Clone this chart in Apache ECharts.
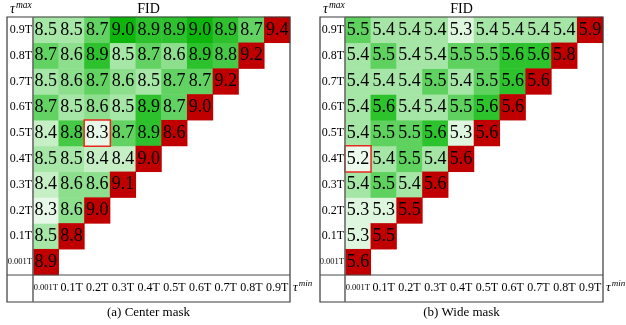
<!DOCTYPE html>
<html>
<head>
<meta charset="utf-8">
<script src="https://cdn.jsdelivr.net/npm/echarts@6/dist/echarts.min.js"></script>
<style>
  html, body { margin: 0; padding: 0; background: #fff; }
  #chart { width: 626px; height: 325px; }
</style>
</head>
<body>
<div id="chart"></div>
<script>
// Timestep thresholds, shared by both axes (tau_min on x, tau_max on y)
const tauLabels = ['0.001T', '0.1T', '0.2T', '0.3T', '0.4T', '0.5T', '0.6T', '0.7T', '0.8T', '0.9T'];

// FID per tau_max row (bottom to top); entry i is tau_min = tauLabels[i],
// the last entry of each row is the diagonal (tau_min = tau_max).
const centerMaskFID = [
  [8.9],
  [8.5, 8.8],
  [8.3, 8.6, 9.0],
  [8.4, 8.6, 8.6, 9.1],
  [8.5, 8.5, 8.4, 8.4, 9.0],
  [8.4, 8.8, 8.3, 8.7, 8.9, 8.6],
  [8.7, 8.5, 8.6, 8.5, 8.9, 8.7, 9.0],
  [8.5, 8.6, 8.7, 8.6, 8.5, 8.7, 8.7, 9.2],
  [8.7, 8.6, 8.9, 8.5, 8.7, 8.6, 8.9, 8.8, 9.2],
  [8.5, 8.5, 8.7, 9.0, 8.9, 8.9, 9.0, 8.9, 8.7, 9.4]
];

const wideMaskFID = [
  [5.6],
  [5.3, 5.5],
  [5.3, 5.3, 5.5],
  [5.4, 5.5, 5.4, 5.6],
  [5.2, 5.4, 5.5, 5.4, 5.6],
  [5.4, 5.5, 5.5, 5.6, 5.3, 5.6],
  [5.4, 5.6, 5.4, 5.4, 5.5, 5.6, 5.6],
  [5.4, 5.4, 5.4, 5.5, 5.4, 5.5, 5.6, 5.6],
  [5.4, 5.5, 5.4, 5.4, 5.5, 5.5, 5.6, 5.6, 5.8],
  [5.5, 5.4, 5.4, 5.4, 5.3, 5.4, 5.4, 5.4, 5.4, 5.9]
];

// Best cell of each panel: [tau_min index, tau_max index]
const centerMaskBest = [2, 5];
const wideMaskBest = [0, 4];

const captions = ['(a) Center mask', '(b) Wide mask'];

// Green ramps (low FID -> pale, high FID -> saturated)
const centerRange = [8.3, 9.0];
const centerColors = ['#e8f8e8', '#c6efc6', '#a6e6a6', '#8ddf8d', '#62d262', '#46ca46', '#2dc22d', '#0db50d'];
const wideRange = [5.2, 5.6];
const wideColors = ['#ecf9ec', '#def5de', '#a5e5a5', '#5fd15f', '#2cc32c'];
const diagColor = '#c00000';

const FONT = '"Liberation Serif", "Times New Roman", serif';

// Panel layout (cells area + outer table frame)
const panels = [
  { gridLeft: 33, outerLeft: 7, width: 257 },
  { gridLeft: 345, outerLeft: 320, width: 258 }
];
const gridTop = 17, gridH = 258, footH = 27;

function splitRows(rows, best) {
  const off = [], diag = [];
  let bestItem = null;
  rows.forEach((row, y) => {
    row.forEach((v, x) => {
      if (x === row.length - 1) { diag.push([x, y, v]); return; }
      if (x === best[0] && y === best[1]) {
        bestItem = { value: [x, y, v], itemStyle: { borderColor: '#e8281e', borderWidth: 1.5 } };
      } else {
        off.push([x, y, v]);
      }
    });
  });
  if (bestItem) off.push(bestItem);
  return { off, diag };
}

const sets = [splitRows(centerMaskFID, centerMaskBest), splitRows(wideMaskFID, wideMaskBest)];

const tickRich = {
  n: { fontFamily: FONT, fontSize: 12, color: '#000' },
  s: { fontFamily: FONT, fontSize: 8.5, color: '#000' }
};
const tickFmt = v => (v === '0.001T' ? '{s|' + v + '}' : '{n|' + v + '}');

const grid = [], xAxis = [], yAxis = [], series = [], visualMap = [], graphic = [];

panels.forEach((p, i) => {
  grid.push({ left: p.gridLeft, top: gridTop, width: p.width, height: gridH, show: false });
  xAxis.push({
    type: 'category', gridIndex: i, data: tauLabels,
    axisLine: { show: false }, axisTick: { show: false }, splitLine: { show: false },
    axisLabel: { margin: 13, verticalAlign: 'middle', formatter: tickFmt, rich: tickRich, interval: 0 }
  });
  yAxis.push({
    type: 'category', gridIndex: i, data: tauLabels,
    axisLine: { show: false }, axisTick: { show: false }, splitLine: { show: false },
    axisLabel: { margin: 1, formatter: tickFmt, rich: tickRich, interval: 0 }
  });

  const label = {
    show: true, fontFamily: FONT, fontSize: 18, color: '#000',
    formatter: q => q.value[2].toFixed(1)
  };
  series.push({
    type: 'heatmap', xAxisIndex: i, yAxisIndex: i, data: sets[i].off,
    label, emphasis: { disabled: true }, itemStyle: { borderWidth: 0 }
  });
  series.push({
    type: 'heatmap', xAxisIndex: i, yAxisIndex: i, data: sets[i].diag,
    label, emphasis: { disabled: true }
  });

  const rng = i === 0 ? centerRange : wideRange;
  visualMap.push({
    show: false, type: 'continuous', seriesIndex: 2 * i,
    min: rng[0], max: rng[1], dimension: 2,
    inRange: { color: i === 0 ? centerColors : wideColors }
  });
  visualMap.push({
    show: false, type: 'continuous', seriesIndex: 2 * i + 1,
    min: 0, max: 20, dimension: 2,
    inRange: { color: [diagColor, diagColor] }
  });

  const right = p.gridLeft + p.width;
  const bottom = gridTop + gridH + footH;
  const cx = (p.outerLeft + right) / 2;

  // table frame
  graphic.push({
    type: 'rect', z: 100,
    shape: { x: p.outerLeft, y: gridTop, width: right - p.outerLeft, height: gridH + footH },
    style: { fill: 'none', stroke: '#3a3a3a', lineWidth: 1.2 }
  });
  graphic.push({
    type: 'line', z: 100,
    shape: { x1: p.gridLeft, y1: gridTop, x2: p.gridLeft, y2: bottom },
    style: { stroke: '#6a6a6a', lineWidth: 1.6 }
  });
  graphic.push({
    type: 'line', z: 100,
    shape: { x1: p.outerLeft, y1: gridTop + gridH, x2: right, y2: gridTop + gridH },
    style: { stroke: '#4a4a4a', lineWidth: 1.2 }
  });

  // headings
  graphic.push({
    type: 'text', z: 100, left: p.outerLeft + 3, top: 0,
    style: {
      text: '{t|τ}{s|max}', fill: '#000',
      rich: {
        t: { fontFamily: FONT, fontSize: 14, fontStyle: 'italic', verticalAlign: 'bottom' },
        s: { fontFamily: FONT, fontSize: 9.5, fontStyle: 'italic', verticalAlign: 'top', padding: [0, 0, 6, 1] }
      }
    }
  });
  graphic.push({
    type: 'text', z: 100, x: cx, y: 9,
    style: { text: 'FID', fontFamily: FONT, fontSize: 14, fill: '#000', align: 'center', verticalAlign: 'middle' }
  });
  graphic.push({
    type: 'text', z: 100, x: right + 3, y: gridTop + gridH + footH / 2 - 1,
    style: {
      text: '{t|τ}{s|min}', fill: '#000', align: 'left', verticalAlign: 'middle',
      rich: {
        t: { fontFamily: FONT, fontSize: 13, fontStyle: 'italic' },
        s: { fontFamily: FONT, fontSize: 9, fontStyle: 'italic', padding: [0, 0, 8, 1] }
      }
    }
  });
  graphic.push({
    type: 'text', z: 100, x: cx, y: 313,
    style: { text: captions[i], fontFamily: FONT, fontSize: 13, fill: '#000', align: 'center', verticalAlign: 'middle' }
  });
});

const chart = echarts.init(document.getElementById('chart'), null, { renderer: 'canvas' });
chart.setOption({
  animation: false,
  backgroundColor: '#fff',
  textStyle: { fontFamily: FONT },
  grid, xAxis, yAxis, series, visualMap, graphic
});
</script>
</body>
</html>
